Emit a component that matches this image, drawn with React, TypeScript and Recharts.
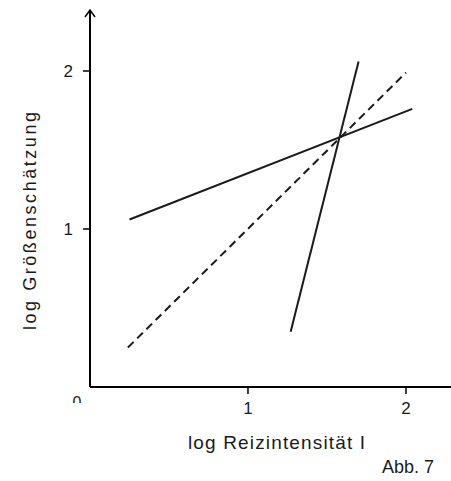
import React from "react";
import { LineChart, Line, XAxis, YAxis, Label } from "recharts";

// log stimulus intensity (x) vs log magnitude estimate (y)
const shallowX = [0.25, 2.04];
const shallowY = [1.06, 1.76];
const dashedX = [0.24, 2.0];
const dashedY = [0.25, 1.99];
const steepX = [1.27, 1.7];
const steepY = [0.35, 2.06];

const xTicks = [1, 2];
const yTicks = [1, 2];
const xTitle = "log Reizintensität I";
const yTitle = "log Größenschätzung";
const originLabel = "0";
const figureLabel = "Abb. 7";

const toPoints = (xs: number[], ys: number[]) => xs.map((x, i) => ({ x, y: ys[i] }));
const shallow = toPoints(shallowX, shallowY);
const dashed = toPoints(dashedX, dashedY);
const steep = toPoints(steepX, steepY);

const FONT = "'Liberation Sans', Arial, sans-serif";
const INK = "#1a1a1a";

const XTitle = (props: any) => {
  const vb = props.viewBox || {};
  const x0 = vb.x;
  const y0 = vb.y;
  return (
    <g>
      <defs>
        <clipPath id="zeroClip">
          <rect x={x0 - 25} y={y0 + 6} width={24} height={10} />
        </clipPath>
      </defs>
      <text x={x0 - 13} y={y0 + 21} fontSize={16} fontFamily={FONT} fill={INK} textAnchor="middle" clipPath="url(#zeroClip)">
        {originLabel}
      </text>
      <text
        x={x0 + vb.width / 2 + 6}
        y={y0 + 62}
        fontSize={19}
        fontFamily={FONT}
        fill={INK}
        textAnchor="middle"
        textLength={177}
        lengthAdjust="spacing"
      >
        {xTitle}
      </text>
    </g>
  );
};

const YTitle = (props: any) => {
  const vb = props.viewBox || {};
  const ax = vb.x + vb.width;
  const top = vb.y;
  const cy = 221;
  const cx = 36;
  return (
    <g>
      <path d={`M ${ax - 5} ${top + 7} L ${ax} ${top} L ${ax + 5} ${top + 7}`} stroke="#000" strokeWidth={1.5} fill="none" />
      <text
        x={cx}
        y={cy}
        transform={`rotate(-90 ${cx} ${cy})`}
        fontSize={18}
        fontFamily={FONT}
        fill={INK}
        textAnchor="middle"
        textLength={218}
        lengthAdjust="spacing"
      >
        {yTitle}
      </text>
    </g>
  );
};

export default function App() {
  return (
    <div style={{ position: "absolute", left: 0, top: 0, width: 451, height: 481, background: "#fff" }}>
      <LineChart width={451} height={481} margin={{ top: 10, right: 0, bottom: 0, left: 0 }}>
        <XAxis
          type="number"
          dataKey="x"
          domain={[0, 2.285]}
          ticks={xTicks}
          allowDataOverflow
          height={94}
          tickSize={7}
          tickMargin={8}
          axisLine={{ stroke: "#000", strokeWidth: 2 }}
          tickLine={{ stroke: "#000", strokeWidth: 1.5 }}
          tick={{ fontSize: 17, fontFamily: FONT, fill: INK }}
        >
          <Label content={<XTitle />} />
        </XAxis>
        <YAxis
          type="number"
          dataKey="y"
          domain={[0, 2.386]}
          ticks={yTicks}
          allowDataOverflow
          width={90}
          tickSize={7}
          tickMargin={10}
          axisLine={{ stroke: "#000", strokeWidth: 2 }}
          tickLine={{ stroke: "#000", strokeWidth: 1.5 }}
          tick={{ fontSize: 17, fontFamily: FONT, fill: INK }}
        >
          <Label content={<YTitle />} />
        </YAxis>
        <Line data={shallow} dataKey="y" type="linear" stroke={INK} strokeWidth={2} dot={false} isAnimationActive={false} />
        <Line data={dashed} dataKey="y" type="linear" stroke={INK} strokeWidth={2} strokeDasharray="8 5" dot={false} isAnimationActive={false} />
        <Line data={steep} dataKey="y" type="linear" stroke={INK} strokeWidth={2} dot={false} isAnimationActive={false} />
      </LineChart>
      <div style={{ position: "absolute", left: 382, top: 457, fontSize: 18, fontFamily: FONT, color: INK, lineHeight: "20px" }}>
        {figureLabel}
      </div>
    </div>
  );
}
